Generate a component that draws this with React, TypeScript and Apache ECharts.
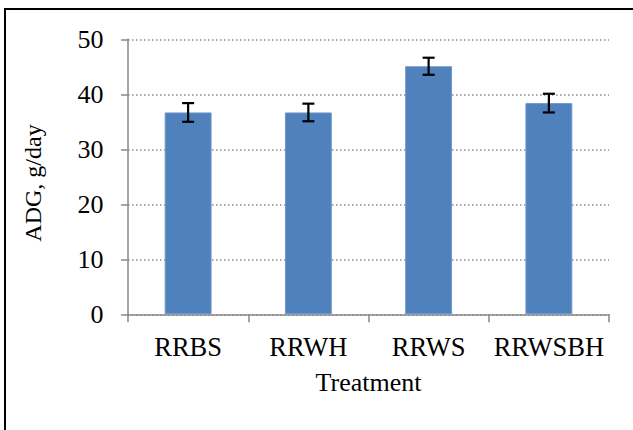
import React, { useEffect, useRef } from "react";
import * as echarts from "echarts";

const categories = ["RRBS", "RRWH", "RRWS", "RRWSBH"];
const means = [36.7, 36.7, 45.1, 38.4];
const errors = [1.7, 1.6, 1.55, 1.7];
const yTicks = { min: 0, max: 50, interval: 10 };

const FONT = "'Liberation Serif', 'Times New Roman', serif";
const AXIS_COLOR = "#888888";

export default function App() {
  const ref = useRef<HTMLDivElement>(null);
  useEffect(() => {
    document.body.style.margin = "0";
    const chart = echarts.init(ref.current!, undefined, { renderer: "svg" });
    const errData = categories.map((_, i) => [i, means[i] - errors[i], means[i] + errors[i]]);
    chart.setOption({
      animation: false,
      backgroundColor: "#ffffff",
      grid: { left: 128, top: 39.3, right: 24, bottom: 115.7 },
      xAxis: {
        type: "category",
        data: categories,
        boundaryGap: true,
        name: "Treatment",
        nameLocation: "middle",
        nameGap: 55,
        nameTextStyle: { fontFamily: FONT, fontSize: 26, color: "#000" },
        axisLine: { show: true, lineStyle: { color: AXIS_COLOR, width: 1.5 } },
        axisTick: { show: true, length: 8, interval: 0, alignWithLabel: false, lineStyle: { color: AXIS_COLOR, width: 1.5 } },
        axisLabel: { interval: 0, fontFamily: FONT, fontSize: 26.5, color: "#000", margin: 19 },
        splitLine: { show: false },
      },
      yAxis: {
        type: "value",
        min: yTicks.min,
        max: yTicks.max,
        interval: yTicks.interval,
        axisLine: { show: true, lineStyle: { color: AXIS_COLOR, width: 1.5 } },
        axisTick: { show: true, length: 7, lineStyle: { color: AXIS_COLOR, width: 1.5 } },
        axisLabel: { fontFamily: FONT, fontSize: 26, color: "#000", margin: 24.5 },
        splitLine: { show: true, lineStyle: { color: "#8c8c8c", width: 1.5, type: [1.5, 2.5] } },
      },
      graphic: [
        {
          type: "rect",
          shape: { x: 5, y: 9, width: 800, height: 600 },
          style: { fill: "none", stroke: "#000", lineWidth: 2 },
          silent: true,
        },
        {
          type: "text",
          x: 33,
          y: 183,
          rotation: Math.PI / 2,
          style: {
            text: "ADG, g/day",
            fontFamily: FONT,
            fontSize: 24,
            fill: "#000",
            align: "center",
            verticalAlign: "middle",
          },
        },
      ],
      series: [
        {
          type: "bar",
          data: means,
          barWidth: "39%",
          itemStyle: { color: "#4F81BD", borderColor: "#7097c8", borderWidth: 1 },
        },
        {
          type: "custom",
          data: errData,
          z: 10,
          renderItem: (params: any, api: any) => {
            const x = api.value(0);
            const lo = api.coord([x, api.value(1)]);
            const hi = api.coord([x, api.value(2)]);
            const hw = 6;
            const style = { stroke: "#000", lineWidth: 2.2 };
            return {
              type: "group",
              children: [
                { type: "line", shape: { x1: lo[0], y1: lo[1], x2: hi[0], y2: hi[1] }, style },
                { type: "line", shape: { x1: hi[0] - hw, y1: hi[1], x2: hi[0] + hw, y2: hi[1] }, style },
                { type: "line", shape: { x1: lo[0] - hw, y1: lo[1], x2: lo[0] + hw, y2: lo[1] }, style },
              ],
            };
          },
        },
      ],
    });
    return () => chart.dispose();
  }, []);
  return <div ref={ref} style={{ width: 633, height: 430 }} />;
}
